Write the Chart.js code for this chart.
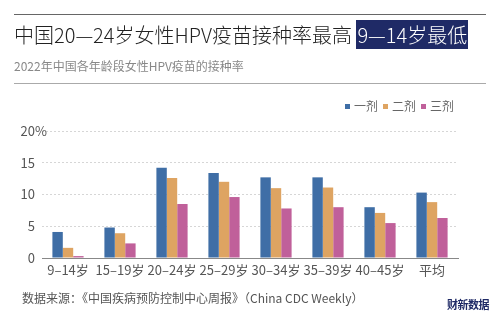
<!DOCTYPE html>
<html>
<head>
<meta charset="utf-8">
<script src="https://cdn.jsdelivr.net/npm/chart.js@4"></script>
<style>
  body { margin: 0; background: #fff; font-family: "Noto Sans CJK SC", "Noto Sans", sans-serif; }
  #wrap { position: relative; width: 500px; height: 333px; overflow: hidden; }
  #c { position: absolute; left: 0; top: 0; }
  .rule { position: absolute; left: 14px; width: 472px; }
  #title { position: absolute; left: 14px; top: 21px; font-size: 20px; font-weight: 300; color: #222; white-space: nowrap; line-height: 28px; }
  #title .hl { background: #1f2a66; color: #fff; padding: 0 1px; }
  #sub { position: absolute; left: 14px; top: 57px; font-size: 12px; color: #888; white-space: nowrap; }
  #legend { position: absolute; left: 345px; top: 97px; font-size: 12px; color: #666; display: flex; gap: 5px; white-space: nowrap; }
  #legend span i { display: inline-block; width: 5px; height: 5px; margin-right: 4px; vertical-align: middle; position: relative; top: -1px; }
  #source { position: absolute; left: 22px; top: 289px; font-size: 12px; color: #555; white-space: nowrap; }
  #logo { position: absolute; left: 447px; top: 296px; font-size: 11px; font-weight: bold; color: #1f2a66; letter-spacing: -0.5px; }
</style>
</head>
<body>
<div id="wrap">
  <canvas id="c" width="500" height="333"></canvas>
  <div class="rule" style="top:14px;border-top:1.5px solid #666"></div>
  <div id="title">中国20—24岁女性HPV疫苗接种率最高 <span class="hl">9—14岁最低</span></div>
  <div id="sub">2022年中国各年龄段女性HPV疫苗的接种率</div>
  <div class="rule" style="top:83px;border-top:1px solid #aaa"></div>
  <div id="legend"></div>
  <div id="source">数据来源：《中国疾病预防控制中心周报》（China CDC Weekly）</div>
  <div id="logo">财新数据</div>
</div>
<script>
let ageGroups = ["9–14岁", "15–19岁", "20–24岁", "25–29岁", "30–34岁", "35–39岁", "40–45岁", "平均"];
let seriesNames = ["一剂", "二剂", "三剂"];
let dose1 = [4.1, 4.8, 14.2, 13.4, 12.7, 12.7, 8.0, 10.3];
let dose2 = [1.6, 3.9, 12.6, 12.0, 11.0, 11.1, 7.1, 8.8];
let dose3 = [0.3, 2.3, 8.5, 9.6, 7.8, 8.0, 5.5, 6.3];
let barColors = ["#3f6ea6", "#dea462", "#c0609a"];
let yTicks = [0, 5, 10, 15, 20];

// legend in html
let legendHtml = "";
for (let i = 0; i < seriesNames.length; i++) {
    legendHtml += '<span><i style="background:' + barColors[i] + '"></i>' + seriesNames[i] + '</span>';
}
document.getElementById("legend").innerHTML = legendHtml;

// draws the % after the top tick
const percentSign = {
    id: "percentSign",
    afterDraw(chart) {
        const ctx = chart.ctx;
        const y = chart.scales.y.getPixelForValue(20);
        ctx.save();
        ctx.font = '13px "Noto Sans CJK SC"';
        ctx.fillStyle = "#555";
        ctx.textBaseline = "middle";
        ctx.textAlign = "left";
        ctx.fillText("%", 35, y);
        ctx.restore();
    }
};

new Chart("c", {
    type: "bar",
    data: {
        labels: ageGroups,
        datasets: [
            { label: seriesNames[0], data: dose1, backgroundColor: barColors[0] },
            { label: seriesNames[1], data: dose2, backgroundColor: barColors[1] },
            { label: seriesNames[2], data: dose3, backgroundColor: barColors[2] }
        ]
    },
    options: {
        responsive: false,
        animation: false,
        datasets: { bar: { categoryPercentage: 0.6, barPercentage: 1.0 } },
        layout: { padding: { left: 0, right: 42, top: 131, bottom: 50 } },
        plugins: { legend: { display: false }, tooltip: { enabled: false } },
        scales: {
            x: {
                grid: { display: false, drawTicks: false },
                border: { display: true, color: "#888", width: 1 },
                ticks: { color: "#555", padding: 4, font: { size: 13, family: "Noto Sans CJK SC" }, maxRotation: 0, autoSkip: false },
                afterFit(scale) { scale.height = 25; }
            },
            y: {
                min: 0,
                max: 20,
                afterBuildTicks(scale) { scale.ticks = yTicks.map(v => ({ value: v })); },
                grid: {
                    color: (c) => c.tick && c.tick.value === 0 ? "rgba(0,0,0,0)" : "#d6d6d6",
                    drawTicks: false
                },
                border: { display: false, dash: [2, 2] },
                ticks: { color: "#555", padding: 7, font: { size: 13, family: "Noto Sans CJK SC" } },
                afterFit(scale) { scale.width = 42; }
            }
        }
    },
    plugins: [percentSign]
});
</script>
</body>
</html>
